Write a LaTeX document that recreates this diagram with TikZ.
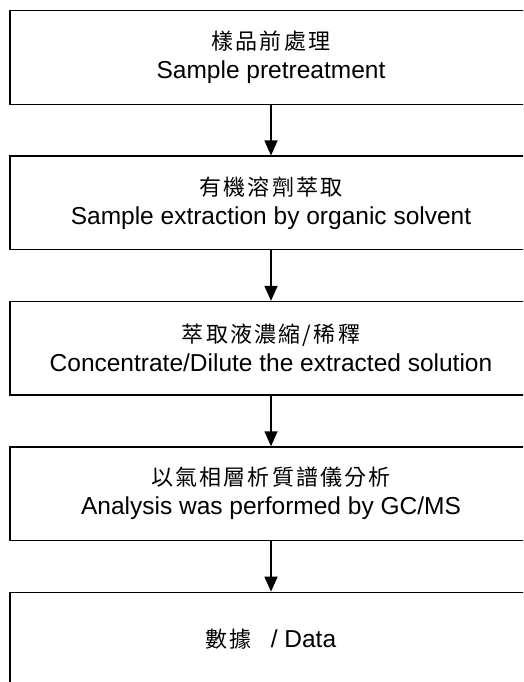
\documentclass[tikz,border=0pt]{standalone}
\usepackage{fontspec}
\setmainfont{Liberation Sans}
\newfontfamily\cjk[LetterSpace=10]{Noto Sans CJK TC}
\usetikzlibrary{positioning,arrows.meta}

\begin{document}
\begin{tikzpicture}[x=1pt, y=1pt
        , node distance = 50.5pt
        , stage/.style={draw, line width=1.4pt, minimum width=522pt, minimum height=93.5pt, inner sep=0pt, align=center, font=\fontsize{24.5}{29}\selectfont}
        , flow/.style={-{Triangle[width=13pt,length=15pt]}, line width=1.6pt}
        ]
        \clip (0,0) rectangle (523,-682);
        \node[stage] (prep) at (271,-57.5) {{\cjk\fontsize{22}{29}\selectfont 樣品前處理}\\Sample pretreatment};
        \node[stage, below=of prep] (extr) {{\cjk\fontsize{22}{29}\selectfont 有機溶劑萃取}\\Sample extraction by organic solvent};
        \node[stage, below=of extr] (conc) {{\cjk\fontsize{22}{29}\selectfont 萃取液濃縮/稀釋}\\Concentrate/Dilute the extracted solution};
        \node[stage, below=of conc] (gcms) {{\cjk\fontsize{22}{29}\selectfont 以氣相層析質譜儀分析}\\Analysis was performed by GC/MS};
        \node[stage, below=of gcms] (data) {{\cjk\fontsize{22}{29}\selectfont 數據}\hspace{12pt} / Data};

        \draw[flow] (prep) -- (extr);
        \draw[flow] (extr) -- (conc);
        \draw[flow] (conc) -- (gcms);
        \draw[flow] (gcms) -- (data);

    \end{tikzpicture}
\end{document}
